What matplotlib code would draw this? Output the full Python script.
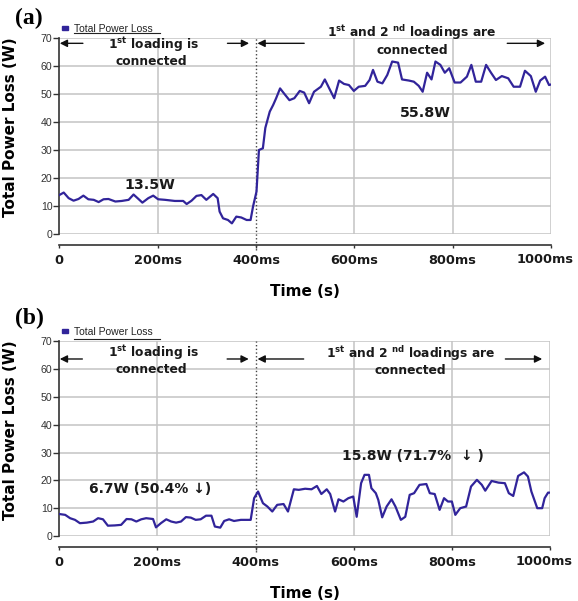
import matplotlib
matplotlib.use("Agg")
import matplotlib.pyplot as plt
import matplotlib.transforms as mtransforms
from matplotlib.patches import Rectangle
from matplotlib.lines import Line2D

plt.rcParams['font.family'] = ['DejaVu Sans']
plt.rcParams['mathtext.fontset'] = 'dejavusans'

# (a) total power loss, time in ms
t_a = [0, 9, 19, 29, 39, 49, 59, 70, 80, 90, 100, 114, 127, 141, 151, 161, 169, 181,
       191, 201, 215, 235, 252, 259, 269, 279, 289, 299, 313, 322, 326, 333, 343, 351,
       360, 370, 381, 389, 394, 401, 406, 414, 419, 428, 435, 441, 449, 457, 468, 478,
       489, 498, 508, 518, 532, 540, 549, 559, 569, 579, 589, 599, 609, 622, 631, 638,
       647, 657, 667, 677, 689, 697, 711, 721, 731, 739, 748, 757, 765, 775, 784, 793,
       804, 816, 829, 838, 847, 858, 868, 878, 888, 900, 913, 924, 937, 947, 959, 969,
       978, 988, 996, 1000]
p_a = [14.0, 14.9, 12.9, 12.0, 12.6, 13.8, 12.5, 12.3, 11.5, 12.5, 12.6, 11.7, 11.9,
       12.3, 14.2, 12.6, 11.3, 12.9, 13.8, 12.5, 12.3, 11.9, 11.9, 10.8, 12.0, 13.7,
       14.0, 12.3, 14.4, 12.9, 8.1, 5.7, 5.1, 3.9, 6.3, 6.0, 5.1, 5.1, 9.9, 15.2, 30.1,
       30.7, 38.0, 43.8, 46.2, 48.6, 52.1, 50.3, 47.9, 48.6, 51.2, 50.6, 46.8, 50.9,
       52.7, 55.3, 52.1, 48.6, 54.9, 53.7, 53.3, 51.2, 52.7, 53.0, 55.1, 58.7, 54.5,
       53.9, 56.9, 61.7, 61.3, 55.3, 54.9, 54.5, 53.0, 50.9, 57.7, 55.3, 61.7, 60.5,
       57.7, 59.3, 54.2, 54.2, 56.3, 60.5, 54.5, 54.5, 60.5, 57.7, 55.1, 56.5, 55.7,
       52.7, 52.7, 58.4, 56.5, 50.9, 54.9, 56.3, 53.3, 53.5]

# (b) total power loss with the proposed scheme
t_b = [0, 12, 22, 32, 42, 56, 69, 79, 89, 99, 113, 126, 137, 147, 157, 167, 177, 191,
       197, 207, 218, 228, 238, 248, 258, 268, 278, 288, 299, 310, 317, 328, 336, 346,
       356, 370, 390, 397, 405, 415, 424, 434, 444, 457, 466, 478, 488, 501, 514, 525,
       534, 545, 552, 562, 569, 579, 589, 599, 606, 615, 622, 631, 636, 645, 650, 658,
       667, 677, 685, 696, 705, 714, 723, 734, 748, 755, 765, 775, 784, 792, 800, 807,
       817, 829, 839, 851, 861, 868, 881, 895, 908, 916, 925, 935, 947, 955, 962, 974,
       984, 989, 996, 1000]
p_b = [7.9, 7.6, 6.4, 5.8, 4.6, 4.8, 5.2, 6.4, 6.0, 3.7, 3.8, 4.0, 6.1, 6.0, 5.2, 6.0,
       6.4, 6.1, 3.1, 4.6, 6.0, 5.2, 4.8, 5.2, 6.8, 6.6, 5.8, 6.0, 7.3, 7.3, 3.4, 3.0,
       5.4, 6.0, 5.4, 5.8, 5.8, 13.6, 16.0, 11.8, 10.6, 8.8, 11.2, 11.5, 8.8, 16.8,
       16.6, 17.0, 16.8, 18.0, 15.1, 16.8, 15.1, 8.8, 13.2, 12.4, 13.6, 14.2, 6.9, 19.0,
       22.0, 22.0, 17.2, 15.4, 13.0, 6.7, 10.6, 13.2, 10.6, 5.8, 6.9, 14.8, 15.4, 18.4,
       18.7, 15.4, 15.1, 9.4, 13.6, 12.4, 12.4, 7.6, 10.0, 10.6, 17.8, 20.2, 18.4, 16.3,
       19.8, 19.2, 19.0, 15.4, 14.4, 21.6, 22.9, 21.4, 16.0, 10.0, 10.0, 13.6, 15.6,
       15.6]

x_ticks = [0, 200, 400, 600, 800, 1000]
x_labels = ['0', '200ms', '400ms', '600ms', '800ms', '1000ms']
y_ticks = [0, 10, 20, 30, 40, 50, 60, 70]
grid_x = [200, 600, 800, 1000]
switch_t = 400

LINE = '#31249a'
GRID = '#c4c4c4'
DARK = '#333333'

fig = plt.figure(figsize=(5.78, 6.01), dpi=100)
ax_a = fig.add_axes([0.1026, 0.6102, 0.8507, 0.3261])
ax_b = fig.add_axes([0.1026, 0.1082, 0.8490, 0.3236])


def style_axes(ax):
    ax.set_xlim(0, 1000)
    ax.set_ylim(0, 70)
    for y in y_ticks:
        ax.axhline(y, color=GRID, lw=1.1, zorder=0)
    for x in grid_x:
        ax.axvline(x, color=GRID, lw=1.1, zorder=0)
    ax.axvline(switch_t, ymin=-0.08, ymax=1, color='#444444', ls=':', lw=1.0,
               clip_on=False, zorder=3)
    ax.spines['top'].set_visible(False)
    ax.spines['right'].set_visible(False)
    ax.spines['left'].set_color(DARK)
    ax.spines['left'].set_linewidth(1.2)
    ax.spines['bottom'].set_position(('outward', 8))
    ax.spines['bottom'].set_color(DARK)
    ax.spines['bottom'].set_linewidth(1.2)
    ax.set_xticks(x_ticks)
    ax.set_xticklabels(x_labels, fontsize=9.3, fontweight='bold', color='#1a1a1a')
    ax.set_yticks(y_ticks)
    ax.tick_params(axis='x', length=2.5, width=1, color=DARK, pad=4)
    ax.tick_params(axis='y', length=4, width=1, color=DARK, pad=1,
                   labelsize=7.6, labelcolor=DARK)
    for lab in ax.get_yticklabels():
        lab.set_family('Liberation Sans')
    # last label sits a bit left and higher, as in the original
    last = ax.xaxis.get_major_ticks()[-1].label1
    last.set_transform(last.get_transform() +
                       mtransforms.ScaledTranslation(-6 / 100, 1.5 / 100, fig.dpi_scale_trans))
    ax.set_ylabel('Total Power Loss (W)', fontsize=11, fontweight='bold')
    ax.yaxis.set_label_coords(-0.085, 0.545)
    ax.set_xlabel('Time (s)', fontsize=11, fontweight='bold', labelpad=12)


def legend(ax, ysq, ytxt, yline):
    ax.add_patch(Rectangle((0.0055, ysq), 0.012, 0.019, transform=ax.transAxes,
                           color=LINE, clip_on=False))
    ax.text(0.030, ytxt, 'Total Power Loss', transform=ax.transAxes, fontsize=7.5,
            family='Liberation Sans', color='#222222', va='center', ha='left')
    ax.add_line(Line2D([0.030, 0.205], [yline, yline], transform=ax.transAxes,
                       color='#222222', lw=0.8, clip_on=False))


def arrows(ax, y, tails_heads):
    for tail, head in tails_heads:
        ax.annotate('', xy=(head, y), xytext=(tail, y),
                    arrowprops=dict(arrowstyle='-|>', color='#111111', lw=1.0,
                                    mutation_scale=11, shrinkA=0, shrinkB=0))


# ---- panel (a)
style_axes(ax_a)
ax_a.plot(t_a, p_a, color=LINE, lw=1.6, zorder=4)
legend(ax_a, 1.042, 1.047, 1.027)
arrows(ax_a, 68.2, [(48, 1), (342, 386), (498, 403), (911, 988)])
txt = dict(fontsize=8.8, fontweight='bold', ha='center', va='center', color='#1a1a1a')
ax_a.text(192, 67.6, r'1$^{\mathbf{st}}$ loading is', **txt)
ax_a.text(188, 61.7, 'connected', **txt)
ax_a.text(717, 71.9, r'1$^{\mathbf{st}}$ and 2 $^{\mathbf{nd}}$ loadings are', **txt)
ax_a.text(717, 65.6, 'connected', **txt)
ax_a.text(184, 17.6, '13.5W', fontsize=10.3, fontweight='bold', ha='center',
          va='center', color='#1a1a1a')
ax_a.text(744, 43.3, '55.8W', fontsize=10.3, fontweight='bold', ha='center',
          va='center', color='#1a1a1a')

# ---- panel (b)
style_axes(ax_b)
ax_b.plot(t_b, p_b, color=LINE, lw=1.6, zorder=4)
legend(ax_b, 1.045, 1.050, 1.012)
arrows(ax_b, 63.7, [(47, 1), (342, 386), (498, 404), (909, 984)])
ax_b.text(192, 65.9, r'1$^{\mathbf{st}}$ loading is', **txt)
ax_b.text(188, 59.8, 'connected', **txt)
ax_b.text(715, 65.6, r'1$^{\mathbf{st}}$ and 2 $^{\mathbf{nd}}$ loadings are', **txt)
ax_b.text(715, 59.6, 'connected', **txt)
ax_b.text(186, 16.8, '6.7W (50.4% \u2193)', fontsize=10, fontweight='bold',
          ha='center', va='center', color='#1a1a1a')
ax_b.text(721, 28.8, '15.8W (71.7%  \u2193 )', fontsize=10, fontweight='bold',
          ha='center', va='center', color='#1a1a1a')

fig.text(29 / 578, 1 - 18 / 601, '(a)', fontsize=17, fontweight='bold',
         family='Liberation Serif', ha='center', va='center')
fig.text(29.5 / 578, 1 - 318.5 / 601, '(b)', fontsize=17, fontweight='bold',
         family='Liberation Serif', ha='center', va='center')

fig.savefig('out.png', dpi=100)
